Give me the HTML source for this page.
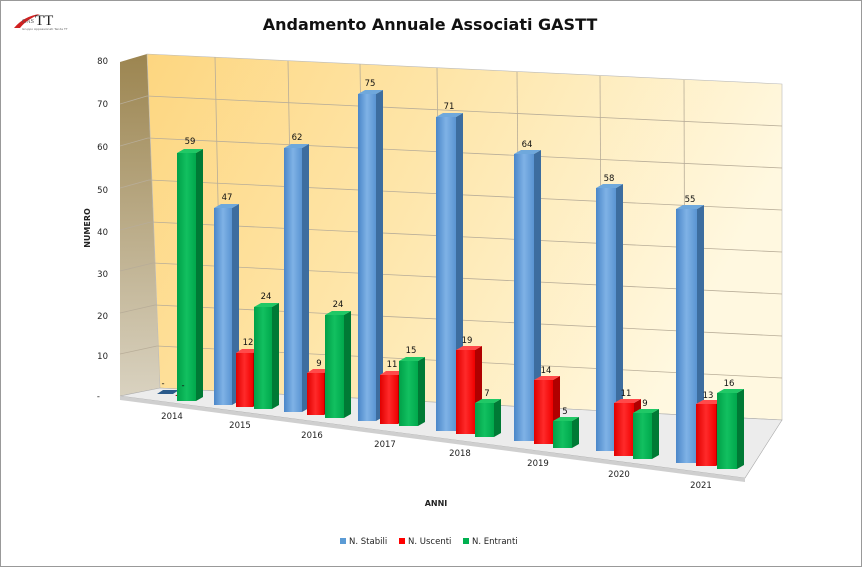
<!DOCTYPE html>
<html><head><meta charset="utf-8"><style>
html,body{margin:0;padding:0;background:#fff}
svg{display:block;font-family:"DejaVu Sans","Liberation Sans",sans-serif}
</style></head><body>
<svg width="862" height="567" viewBox="0 0 862 567" xmlns="http://www.w3.org/2000/svg">
<defs>
<linearGradient id="wall" x1="0" y1="0" x2="1" y2="0.3">
<stop offset="0" stop-color="#fdd680"/><stop offset="0.45" stop-color="#fee5a8"/><stop offset="1" stop-color="#fff8e0"/></linearGradient>
<linearGradient id="side" x1="0" y1="0" x2="0" y2="1">
<stop offset="0" stop-color="#9c8550"/><stop offset="1" stop-color="#d9d2c0"/></linearGradient>
<linearGradient id="bl" x1="0" y1="0" x2="1" y2="0"><stop offset="0" stop-color="#4a86c8"/><stop offset="0.5" stop-color="#7fb2e6"/><stop offset="1" stop-color="#5a94d2"/></linearGradient>
<linearGradient id="rd" x1="0" y1="0" x2="1" y2="0"><stop offset="0" stop-color="#e00000"/><stop offset="0.5" stop-color="#ff2a2a"/><stop offset="1" stop-color="#f00000"/></linearGradient>
<linearGradient id="gr" x1="0" y1="0" x2="1" y2="0"><stop offset="0" stop-color="#00a048"/><stop offset="0.5" stop-color="#12c060"/><stop offset="1" stop-color="#00a84c"/></linearGradient>
</defs>
<rect x="0.5" y="0.5" width="861" height="566" fill="#fff" stroke="#999"/>
<path d="M14 28 Q24 16 40 14 Q26 20 20 28 Z" fill="#d02020"/>
<text x="22" y="23" font-size="6" fill="#555" font-family="Liberation Serif,serif">GAS</text>
<text x="35" y="25" font-size="15" fill="#222" font-family="Liberation Serif,serif">TT</text>
<text x="22" y="30" font-size="3" fill="#666">Gruppo Appassionati Tende TT</text>
<text x="430" y="30" font-size="16" font-weight="bold" text-anchor="middle" fill="#111">Andamento Annuale Associati GASTT</text>
<polygon points="120,62 147,54 160,388 120,396" fill="url(#side)"/>
<polygon points="147,54 782,84 782,420 160,388" fill="url(#wall)" stroke="#bbb" stroke-width="0.6"/>
<g stroke="#b8ad98" stroke-width="0.8">
<line x1="147" y1="96" x2="782" y2="126"/>
<line x1="148" y1="138" x2="782" y2="168"/>
<line x1="149" y1="180" x2="782" y2="210"/>
<line x1="151" y1="222" x2="782" y2="252"/>
<line x1="153" y1="263" x2="782" y2="294"/>
<line x1="155" y1="305" x2="782" y2="336"/>
<line x1="157" y1="346" x2="782" y2="378"/>
<line x1="120" y1="104" x2="147" y2="96"/>
<line x1="120" y1="146" x2="148" y2="138"/>
<line x1="120" y1="188" x2="149" y2="180"/>
<line x1="120" y1="230" x2="151" y2="222"/>
<line x1="120" y1="271" x2="153" y2="263"/>
<line x1="120" y1="313" x2="155" y2="305"/>
<line x1="120" y1="354" x2="157" y2="346"/>
<line x1="215" y1="57" x2="222" y2="392"/>
<line x1="288" y1="61" x2="294" y2="395"/>
<line x1="360" y1="64" x2="365" y2="399"/>
<line x1="437" y1="68" x2="441" y2="403"/>
<line x1="517" y1="72" x2="520" y2="407"/>
<line x1="600" y1="76" x2="602" y2="411"/>
<line x1="684" y1="80" x2="685" y2="415"/>
</g>
<polygon points="120,396 160,388 782,420 745,478" fill="#ececec" stroke="#aaa" stroke-width="0.6"/>
<polygon points="120,396 745,478 745,482 120,400" fill="#cfcfcf"/>
<g font-size="8.5" fill="#222" text-anchor="end">
<text x="108" y="64">80</text><text x="108" y="107">70</text><text x="108" y="150">60</text>
<text x="108" y="193">50</text><text x="108" y="235">40</text><text x="108" y="277">30</text>
<text x="108" y="319">20</text><text x="108" y="359">10</text><text x="100" y="399">-</text>
</g>
<text transform="translate(90,228) rotate(-90)" font-size="8" font-weight="bold" text-anchor="middle" fill="#222">NUMERO</text>
<g>
<polygon points="157,394 173,394 179,390 163,390" fill="#2a5a8a"/>
<polygon points="175,396 190,396 196,392 181,392" fill="#a00000"/>
<rect x="177" y="153" width="19" height="248" fill="url(#gr)"/><polygon points="196,153 203,149 203,397 196,401" fill="#007a35"/><polygon points="177,153 184,149 203,149 196,153" fill="#20c866"/>
<rect x="214" y="208" width="18" height="197" fill="url(#bl)"/><polygon points="232,208 239,204 239,401 232,405" fill="#3d6d9f"/><polygon points="214,208 221,204 239,204 232,208" fill="#6fa8dc"/>
<rect x="236" y="353" width="17" height="54" fill="url(#rd)"/><polygon points="253,353 259,349 259,403 253,407" fill="#b00000"/><polygon points="236,353 242,349 259,349 253,353" fill="#ff4a4a"/>
<rect x="254" y="307" width="18" height="102" fill="url(#gr)"/><polygon points="272,307 279,303 279,405 272,409" fill="#007a35"/><polygon points="254,307 261,303 279,303 272,307" fill="#20c866"/>
<rect x="284" y="148" width="18" height="264" fill="url(#bl)"/><polygon points="302,148 309,144 309,408 302,412" fill="#3d6d9f"/><polygon points="284,148 291,144 309,144 302,148" fill="#6fa8dc"/>
<rect x="307" y="373" width="17" height="42" fill="url(#rd)"/><polygon points="324,373 330,369 330,411 324,415" fill="#b00000"/><polygon points="307,373 313,369 330,369 324,373" fill="#ff4a4a"/>
<rect x="325" y="315" width="19" height="103" fill="url(#gr)"/><polygon points="344,315 351,311 351,414 344,418" fill="#007a35"/><polygon points="325,315 332,311 351,311 344,315" fill="#20c866"/>
<rect x="358" y="94" width="18" height="327" fill="url(#bl)"/><polygon points="376,94 383,90 383,417 376,421" fill="#3d6d9f"/><polygon points="358,94 365,90 383,90 376,94" fill="#6fa8dc"/>
<rect x="380" y="375" width="18" height="49" fill="url(#rd)"/><polygon points="398,375 404,371 404,420 398,424" fill="#b00000"/><polygon points="380,375 386,371 404,371 398,375" fill="#ff4a4a"/>
<rect x="399" y="361" width="19" height="65" fill="url(#gr)"/><polygon points="418,361 425,357 425,422 418,426" fill="#007a35"/><polygon points="399,361 406,357 425,357 418,361" fill="#20c866"/>
<rect x="436" y="117" width="20" height="314" fill="url(#bl)"/><polygon points="456,117 463,113 463,427 456,431" fill="#3d6d9f"/><polygon points="436,117 443,113 463,113 456,117" fill="#6fa8dc"/>
<rect x="456" y="350" width="19" height="84" fill="url(#rd)"/><polygon points="475,350 482,346 482,430 475,434" fill="#b00000"/><polygon points="456,350 463,346 482,346 475,350" fill="#ff4a4a"/>
<rect x="475" y="403" width="19" height="34" fill="url(#gr)"/><polygon points="494,403 501,399 501,433 494,437" fill="#007a35"/><polygon points="475,403 482,399 501,399 494,403" fill="#20c866"/>
<rect x="514" y="154" width="20" height="287" fill="url(#bl)"/><polygon points="534,154 541,150 541,437 534,441" fill="#3d6d9f"/><polygon points="514,154 521,150 541,150 534,154" fill="#6fa8dc"/>
<rect x="534" y="380" width="19" height="64" fill="url(#rd)"/><polygon points="553,380 560,376 560,440 553,444" fill="#b00000"/><polygon points="534,380 541,376 560,376 553,380" fill="#ff4a4a"/>
<rect x="553" y="421" width="19" height="27" fill="url(#gr)"/><polygon points="572,421 579,417 579,444 572,448" fill="#007a35"/><polygon points="553,421 560,417 579,417 572,421" fill="#20c866"/>
<rect x="596" y="188" width="20" height="263" fill="url(#bl)"/><polygon points="616,188 623,184 623,447 616,451" fill="#3d6d9f"/><polygon points="596,188 603,184 623,184 616,188" fill="#6fa8dc"/>
<rect x="614" y="403" width="20" height="53" fill="url(#rd)"/><polygon points="634,403 641,399 641,452 634,456" fill="#b00000"/><polygon points="614,403 621,399 641,399 634,403" fill="#ff4a4a"/>
<rect x="633" y="413" width="19" height="46" fill="url(#gr)"/><polygon points="652,413 659,409 659,455 652,459" fill="#007a35"/><polygon points="633,413 640,409 659,409 652,413" fill="#20c866"/>
<rect x="676" y="209" width="21" height="254" fill="url(#bl)"/><polygon points="697,209 704,205 704,459 697,463" fill="#3d6d9f"/><polygon points="676,209 683,205 704,205 697,209" fill="#6fa8dc"/>
<rect x="696" y="404" width="20" height="62" fill="url(#rd)"/><polygon points="716,404 723,400 723,462 716,466" fill="#b00000"/><polygon points="696,404 703,400 723,400 716,404" fill="#ff4a4a"/>
<rect x="717" y="393" width="20" height="76" fill="url(#gr)"/><polygon points="737,393 744,389 744,465 737,469" fill="#007a35"/><polygon points="717,393 724,389 744,389 737,393" fill="#20c866"/>
</g>
<g font-size="8.5" fill="#111" text-anchor="middle">
<text x="163" y="386">-</text><text x="183" y="388">-</text><text x="190" y="144">59</text>
<text x="227" y="200">47</text><text x="248" y="345">12</text><text x="266" y="299">24</text>
<text x="297" y="140">62</text><text x="319" y="366">9</text><text x="338" y="307">24</text>
<text x="370" y="86">75</text><text x="392" y="367">11</text><text x="411" y="353">15</text>
<text x="449" y="109">71</text><text x="467" y="343">19</text><text x="487" y="396">7</text>
<text x="527" y="147">64</text><text x="546" y="373">14</text><text x="565" y="414">5</text>
<text x="609" y="181">58</text><text x="626" y="396">11</text><text x="645" y="406">9</text>
<text x="690" y="202">55</text><text x="708" y="398">13</text><text x="729" y="386">16</text>
</g>
<g font-size="8.5" fill="#222" text-anchor="middle">
<text x="172" y="419">2014</text><text x="240" y="428">2015</text><text x="312" y="438">2016</text>
<text x="385" y="447">2017</text><text x="460" y="456">2018</text><text x="538" y="466">2019</text>
<text x="619" y="477">2020</text><text x="701" y="488">2021</text>
</g>
<text x="436" y="506" font-size="8" font-weight="bold" text-anchor="middle" fill="#222">ANNI</text>
<g font-size="8.5" fill="#222">
<rect x="340" y="538" width="6" height="6" fill="#5b9bd5"/><text x="349" y="544">N. Stabili</text>
<rect x="399" y="538" width="6" height="6" fill="#ff0000"/><text x="408" y="544">N. Uscenti</text>
<rect x="463" y="538" width="6" height="6" fill="#00b050"/><text x="472" y="544">N. Entranti</text>
</g>
</svg>
</body></html>
